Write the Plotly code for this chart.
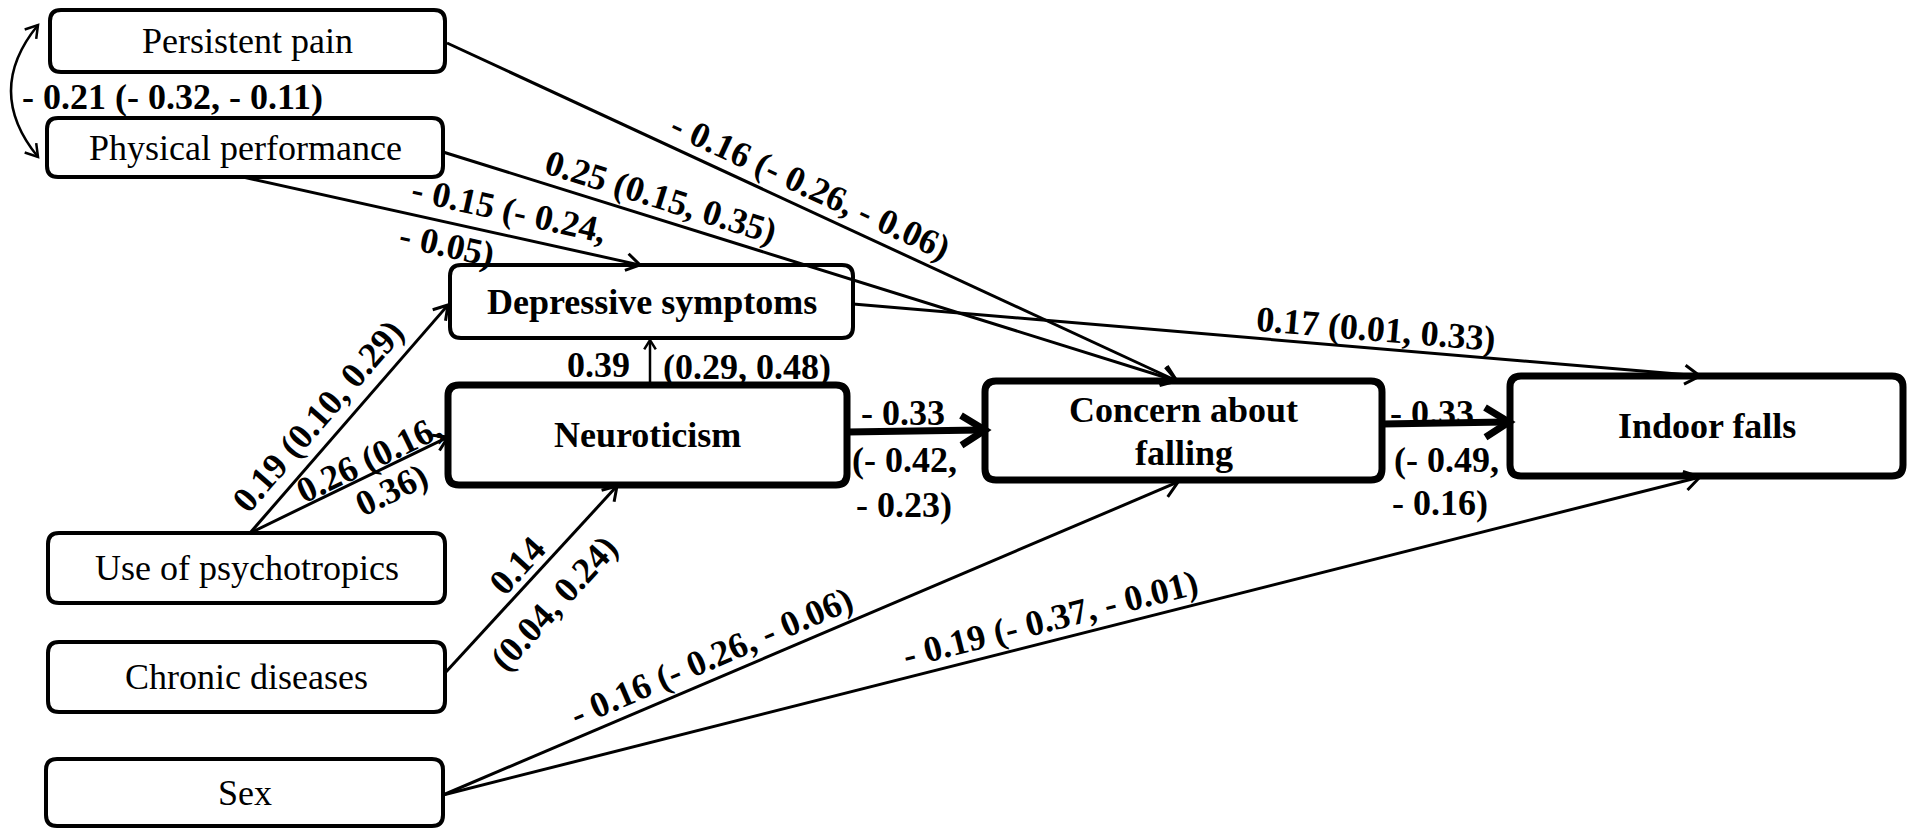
import math
import plotly.graph_objects as go

# ---------------- data ----------------
nodes = ["Persistent pain", "Physical performance", "Depressive symptoms", "Neuroticism",
         "Concern about falling", "Indoor falls", "Use of psychotropics", "Chronic diseases", "Sex"]

edge_source = ["Persistent pain", "Physical performance", "Physical performance", "Depressive symptoms",
               "Use of psychotropics", "Use of psychotropics", "Chronic diseases", "Neuroticism",
               "Neuroticism", "Concern about falling", "Sex", "Sex"]
edge_target = ["Concern about falling", "Concern about falling", "Depressive symptoms", "Indoor falls",
               "Depressive symptoms", "Neuroticism", "Neuroticism", "Depressive symptoms",
               "Concern about falling", "Indoor falls", "Concern about falling", "Indoor falls"]
beta = [-0.16, 0.25, -0.15, 0.17, 0.19, 0.26, 0.14, 0.39, -0.33, -0.33, -0.16, -0.19]
ci_low = [-0.26, 0.15, -0.24, 0.01, 0.10, 0.16, 0.04, 0.29, -0.42, -0.49, -0.26, -0.37]
ci_high = [-0.06, 0.35, -0.05, 0.33, 0.29, 0.36, 0.24, 0.48, -0.23, -0.16, -0.06, -0.01]

cov_pair = ["Persistent pain", "Physical performance"]
cov_beta = [-0.21]
cov_ci_low = [-0.32]
cov_ci_high = [-0.11]


def fmt(v):
    return f"- {abs(v):.2f}" if v < 0 else f"{v:.2f}"


# ---------------- layout / style ----------------
W, H = 1907, 829
FONT = "Liberation Serif, Times New Roman, serif"
FS = 36

box = {
    "Persistent pain": (50, 10, 445, 72),
    "Physical performance": (47, 118, 443, 177),
    "Depressive symptoms": (450, 265, 853, 338),
    "Neuroticism": (448, 385, 847, 485),
    "Concern about falling": (985, 381, 1382, 480),
    "Indoor falls": (1510, 376, 1903, 476),
    "Use of psychotropics": (48, 533, 445, 603),
    "Chronic diseases": (48, 642, 445, 712),
    "Sex": (46, 759, 443, 826),
}
thick_nodes = {"Neuroticism", "Concern about falling", "Indoor falls"}
bold_nodes = {"Depressive symptoms", "Neuroticism", "Concern about falling", "Indoor falls"}
node_lines = {"Concern about falling": [("Concern about", -21), ("falling", 22)]}

# (start, end, line width, arrow arm length)
edge_geom = [
    ((447, 43), (1177, 381), 3, 18),
    ((443, 152), (1177, 381), 3, 18),
    ((243, 177), (640, 265), 3, 16),
    ((853, 304), (1700, 376), 3, 18),
    ((250, 533), (448, 305), 3, 16),
    ((250, 533), (448, 437), 3, 16),
    ((445, 673), (617, 486), 3, 16),
    ((650, 385), (650, 340), 2.5, 11),
    ((847, 432), (985, 430), 7, 28),
    ((1382, 424), (1509, 422), 7, 28),
    ((443, 795), (1178, 482), 3, 18),
    ((443, 795), (1700, 477), 3, 18),
]

# label lines: (template, cx, cy, angle or None = along edge)
label_lines = [
    [("{b} ({l}, {h})", 810, 186, None)],
    [("{b} ({l}, {h})", 661, 197, None)],
    [("{b} ({l},", 509, 210, None), ("{h})", 447, 245, None)],
    [("{b} ({l}, {h})", 1376, 329, None)],
    [("{b} ({l}, {h})", 318, 416, None)],
    [("{b} ({l},", 369, 459, None), ("{h})", 391, 490, None)],
    [("{b}", 517, 566, None), ("({l}, {h})", 554, 603, None)],
    [("{b}", 598, 365, 0), ("({l}, {h})", 747, 367, 0)],
    [("{b}", 903, 413, 0), ("({l},", 904, 460, 0), ("{h})", 904, 505, 0)],
    [("{b}", 1432, 413, 0), ("({l},", 1446, 460, 0), ("{h})", 1440, 503, 0)],
    [("{b} ({l}, {h})", 711, 657, None)],
    [("{b} ({l}, {h})", 1050, 619, None)],
]

cov_geom = {"p0": (38, 25), "c": (-16, 91), "p1": (38, 157), "width": 2.5, "arm": 14}
cov_label_pos = (172, 97)

shapes = []
annotations = []


def rounded_rect(x0, y0, x1, y1, r=11):
    return (f"M {x0 + r} {y0} L {x1 - r} {y0} Q {x1} {y0} {x1} {y0 + r} "
            f"L {x1} {y1 - r} Q {x1} {y1} {x1 - r} {y1} L {x0 + r} {y1} "
            f"Q {x0} {y1} {x0} {y1 - r} L {x0} {y0 + r} Q {x0} {y0} {x0 + r} {y0} Z")


def arrow_head(tip, d, arm, width, half_angle=32):
    dx, dy = d
    n = math.hypot(dx, dy)
    ux, uy = dx / n, dy / n
    pts = []
    for s in (1, -1):
        a = math.radians(180 + s * half_angle)
        rx = ux * math.cos(a) - uy * math.sin(a)
        ry = ux * math.sin(a) + uy * math.cos(a)
        pts.append((tip[0] + arm * rx, tip[1] + arm * ry))
    path = f"M {pts[0][0]:.1f} {pts[0][1]:.1f} L {tip[0]:.1f} {tip[1]:.1f} L {pts[1][0]:.1f} {pts[1][1]:.1f}"
    shapes.append(dict(type="path", path=path, xref="x", yref="y",
                       line=dict(color="black", width=width)))


# boxes
for name in nodes:
    x0, y0, x1, y1 = box[name]
    lw = 7 if name in thick_nodes else 4
    shapes.append(dict(type="path", path=rounded_rect(x0, y0, x1, y1), xref="x", yref="y",
                       line=dict(color="black", width=lw), fillcolor="white", layer="above"))
    cx, cy = (x0 + x1) / 2, (y0 + y1) / 2
    lines = node_lines.get(name, [(name, 0)])
    for txt, off in lines:
        t = f"<b>{txt}</b>" if name in bold_nodes else txt
        annotations.append(dict(x=cx, y=cy + off, xref="x", yref="y", text=t, showarrow=False,
                                xanchor="center", yanchor="middle",
                                font=dict(family=FONT, size=FS, color="black")))

# edges
for i, (s, t) in enumerate(zip(edge_source, edge_target)):
    (xs, ys), (xe, ye), lw, arm = edge_geom[i]
    d = (xe - xs, ye - ys)
    n = math.hypot(*d)
    back = lw * 0.6
    shapes.append(dict(type="line", x0=xs, y0=ys, x1=xe - d[0] / n * back, y1=ye - d[1] / n * back,
                       xref="x", yref="y", line=dict(color="black", width=lw), layer="above"))
    arrow_head((xe, ye), d, arm, lw)
    ang = math.degrees(math.atan2(d[1], d[0]))
    vals = dict(b=fmt(beta[i]), l=fmt(ci_low[i]), h=fmt(ci_high[i]))
    for tpl, cx, cy, a in label_lines[i]:
        annotations.append(dict(x=cx, y=cy, xref="x", yref="y", text="<b>" + tpl.format(**vals) + "</b>",
                                showarrow=False, xanchor="center", yanchor="middle",
                                textangle=ang if a is None else a,
                                font=dict(family=FONT, size=FS, color="black")))

# covariance curved double arrow
p0, c, p1 = cov_geom["p0"], cov_geom["c"], cov_geom["p1"]
shapes.append(dict(type="path", path=f"M {p0[0]} {p0[1]} Q {c[0]} {c[1]} {p1[0]} {p1[1]}",
                   xref="x", yref="y", line=dict(color="black", width=cov_geom["width"])))
arrow_head(p0, (p0[0] - c[0], p0[1] - c[1]), cov_geom["arm"], cov_geom["width"])
arrow_head(p1, (p1[0] - c[0], p1[1] - c[1]), cov_geom["arm"], cov_geom["width"])
cov_text = f"{fmt(cov_beta[0])} ({fmt(cov_ci_low[0])}, {fmt(cov_ci_high[0])})"
annotations.append(dict(x=cov_label_pos[0], y=cov_label_pos[1], xref="x", yref="y",
                        text=f"<b>{cov_text}</b>", showarrow=False, xanchor="center", yanchor="middle",
                        font=dict(family=FONT, size=FS, color="black")))

fig = go.Figure()
fig.add_trace(go.Scatter(x=[0, W], y=[0, H], mode="markers", marker=dict(opacity=0),
                         hoverinfo="skip", showlegend=False))
fig.update_layout(
    width=W, height=H, margin=dict(l=0, r=0, t=0, b=0),
    paper_bgcolor="white", plot_bgcolor="white",
    xaxis=dict(range=[0, W], visible=False, fixedrange=True),
    yaxis=dict(range=[H, 0], visible=False, fixedrange=True),
    shapes=shapes, annotations=annotations, showlegend=False,
)
fig.write_html("out.html", config={"displayModeBar": False},
               post_script="document.body.style.margin='0';document.body.style.overflow='hidden';")
